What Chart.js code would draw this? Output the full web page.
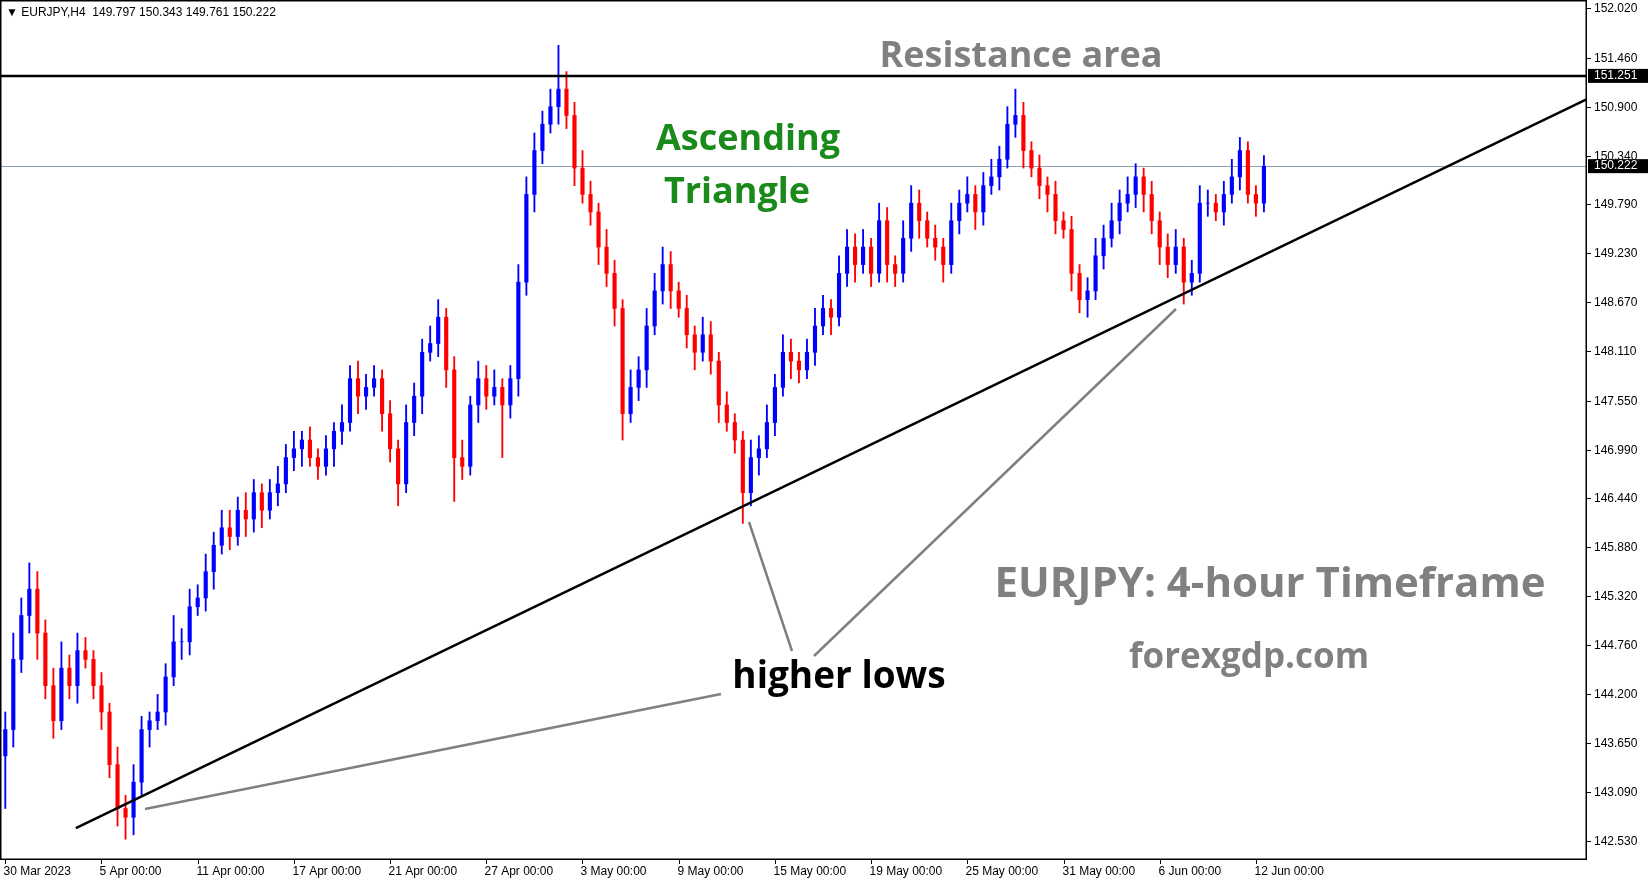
<!DOCTYPE html>
<html><head><meta charset="utf-8">
<script src="https://cdn.jsdelivr.net/npm/chart.js@4.4.0/dist/chart.umd.min.js"></script>
<style>html,body{margin:0;padding:0;background:#fff}#w{width:1650px;height:884px}</style>
</head><body><div id="w"><canvas id="c" width="1650" height="884"></canvas></div>
<script>
const closes=[143.8,144.6,145.1,145.4,144.9,144.3,143.9,144.5,144.3,144.7,144.6,144.3,144.0,143.4,142.9,142.8,143.2,143.8,143.9,144.0,
144.4,144.8,144.8,145.2,145.3,145.6,145.9,146.1,146.0,146.3,146.2,146.5,146.3,146.5,146.6,146.9,147.0,147.1,146.9,146.8,
147.0,147.2,147.3,147.8,147.6,147.7,147.8,147.4,147.0,146.6,147.3,147.6,148.1,148.2,148.5,147.9,146.9,146.8,147.5,147.8,
147.6,147.7,147.5,147.8,148.9,149.9,150.4,150.7,150.9,151.1,150.8,150.2,149.9,149.7,149.3,149.0,148.6,147.4,147.7,147.9,
148.4,148.8,149.1,148.8,148.6,148.3,148.1,148.3,148.0,147.5,147.3,147.1,146.5,146.9,147.0,147.3,147.7,148.1,148.0,147.9,
148.1,148.4,148.6,148.5,149.0,149.3,149.1,149.3,149.0,149.6,149.1,149.0,149.4,149.8,149.6,149.4,149.3,149.1,149.6,149.8,
149.9,149.7,150.0,150.1,150.3,150.7,150.8,150.4,150.2,150.0,149.9,149.6,149.5,149.0,148.7,148.8,149.2,149.4,149.6,149.8,
149.9,150.1,149.9,149.6,149.3,149.1,149.3,148.9,149.0,149.8,149.8,149.7,149.9,150.1,150.4,149.9,149.8,150.222];
const firstOpen=143.5;
const wickUp=[0.2,0.3,0.2,0.3,0.2,0.15,0.2,0.3,0.15,0.2,0.15,0.1,0.15,0.1,0.2,0.15,0.2,0.15,0.1,0.2,
0.15,0.3,0.15,0.2,0.15,0.2,0.15,0.2,0.2,0.15,0.2,0.15,0.1,0.15,0.2,0.15,0.2,0.1,0.15,0.1,
0.15,0.1,0.2,0.15,0.2,0.15,0.15,0.1,0.15,0.1,0.2,0.15,0.15,0.2,0.2,0.1,0.15,0.2,0.1,0.2,
0.15,0.2,0.1,0.15,0.2,0.2,0.2,0.15,0.2,0.5,0.2,0.15,0.2,0.15,0.1,0.2,0.15,0.1,0.2,0.15,
0.2,0.2,0.2,0.15,0.1,0.15,0.1,0.2,0.15,0.1,0.15,0.1,0.1,0.2,0.15,0.2,0.15,0.2,0.15,0.1,
0.15,0.2,0.15,0.1,0.2,0.2,0.15,0.2,0.1,0.2,0.15,0.1,0.2,0.2,0.15,0.1,0.15,0.1,0.2,0.15,
0.2,0.1,0.15,0.2,0.15,0.2,0.3,0.15,0.1,0.15,0.1,0.15,0.1,0.15,0.1,0.15,0.2,0.15,0.2,0.15,
0.2,0.15,0.1,0.15,0.1,0.15,0.2,0.1,0.15,0.2,0.15,0.1,0.15,0.2,0.15,0.1,0.1,0.12];
const wickDn=[0.6,0.2,0.15,0.2,0.3,0.15,0.2,0.1,0.15,0.2,0.1,0.15,0.2,0.15,0.2,0.25,0.2,0.15,0.2,0.1,
0.15,0.1,0.2,0.15,0.1,0.15,0.2,0.1,0.15,0.1,0.2,0.15,0.2,0.1,0.15,0.1,0.15,0.2,0.1,0.15,
0.1,0.2,0.15,0.1,0.2,0.15,0.1,0.2,0.15,0.25,0.1,0.15,0.2,0.1,0.15,0.2,0.5,0.15,0.1,0.2,
0.15,0.1,0.6,0.15,0.2,0.15,0.2,0.15,0.1,0.2,0.15,0.2,0.1,0.15,0.2,0.15,0.2,0.3,0.1,0.15,
0.2,0.1,0.15,0.2,0.1,0.15,0.2,0.1,0.15,0.2,0.1,0.15,0.35,0.15,0.2,0.1,0.15,0.1,0.2,0.15,
0.1,0.15,0.1,0.2,0.1,0.15,0.2,0.1,0.15,0.1,0.2,0.15,0.1,0.15,0.2,0.1,0.15,0.2,0.1,0.15,
0.1,0.2,0.15,0.1,0.15,0.1,0.15,0.2,0.1,0.15,0.2,0.15,0.1,0.2,0.15,0.2,0.1,0.15,0.1,0.15,
0.1,0.15,0.2,0.15,0.2,0.15,0.1,0.25,0.15,0.1,0.15,0.1,0.15,0.1,0.15,0.1,0.15,0.1];
const xTickIdx=[0,12,24,36,48,60,72,84,96,108,120,132,144,156];
const xTickLabels=["30 Mar 2023","5 Apr 00:00","11 Apr 00:00","17 Apr 00:00","21 Apr 00:00","27 Apr 00:00","3 May 00:00","9 May 00:00","15 May 00:00","19 May 00:00","25 May 00:00","31 May 00:00","6 Jun 00:00","12 Jun 00:00"];
const yTicks=[152.020,151.460,150.900,150.340,149.790,149.230,148.670,148.110,147.550,146.990,146.440,145.880,145.320,144.760,144.200,143.650,143.090,142.530];
const resistance=151.251, lastPrice=150.222;
const trendX=[8.8,197.6], trendY=[142.675,151.0];

const opens=closes.map((c,i)=>i===0?firstOpen:closes[i-1]);
const bodies=closes.map((c,i)=>({x:i,y:[opens[i],c]}));
const wicks=closes.map((c,i)=>({x:i,y:[Math.min(opens[i],c)-wickDn[i],Math.max(opens[i],c)+wickUp[i]]}));
const cols=closes.map((c,i)=>c>=opens[i]?'#0000ff':'#ff0000');

const deco={id:'deco',
 beforeDatasetsDraw(ch){const {ctx,chartArea:a,scales:{y}}=ch;ctx.save();
  ctx.strokeStyle='#8f9fb0';ctx.lineWidth=1;let py=Math.round(y.getPixelForValue(lastPrice))+0.5;
  ctx.beginPath();ctx.moveTo(a.left,py);ctx.lineTo(a.right,py);ctx.stroke();ctx.restore();},
 afterDraw(ch){const {ctx,chartArea:a,scales:{x,y}}=ch;ctx.save();
  ctx.strokeStyle='#000';ctx.lineWidth=2.5;let ry=y.getPixelForValue(resistance);
  ctx.beginPath();ctx.moveTo(a.left,ry);ctx.lineTo(a.right,ry);ctx.stroke();
  ctx.lineWidth=1.5;ctx.strokeRect(a.left+0.75,a.top+0.75,a.right-a.left-1.5,a.bottom-a.top-1.5);
  ctx.font='12px "Liberation Sans"';ctx.textBaseline='middle';ctx.fillStyle='#000';ctx.lineWidth=1;
  yTicks.forEach(v=>{const p=Math.round(y.getPixelForValue(v))+0.5;ctx.beginPath();ctx.moveTo(a.right,p);ctx.lineTo(a.right+4,p);ctx.stroke();ctx.textAlign='left';ctx.fillText(v.toFixed(3),a.right+7,p);});
  ctx.textBaseline='top';
  xTickIdx.forEach((v,i)=>{const p=Math.round(x.getPixelForValue(v))+0.5;ctx.beginPath();ctx.moveTo(p,a.bottom);ctx.lineTo(p,a.bottom+4);ctx.stroke();ctx.textAlign='left';ctx.fillText(xTickLabels[i],p-2,a.bottom+6);});
  ctx.textBaseline='middle';
  for(const v of [resistance,lastPrice]){const p=y.getPixelForValue(v);ctx.fillStyle='#000';ctx.fillRect(a.right+1,p-7,60,14);ctx.fillStyle='#fff';ctx.textAlign='left';ctx.fillText(v.toFixed(3),a.right+7,p);}
  ctx.fillStyle='#000';ctx.fillText('▼ EURJPY,H4  149.797 150.343 149.761 150.222',6,13);
  ctx.strokeStyle='#808080';ctx.lineWidth=2.5;
  for(const s of [[145,809,721,694],[749,522,792,651],[814,656,1176,309]]){ctx.beginPath();ctx.moveTo(s[0],s[1]);ctx.lineTo(s[2],s[3]);ctx.stroke();}
  ctx.textAlign='center';ctx.textBaseline='middle';
  const T=(t,x,yy,sz,c)=>{ctx.font='bold '+sz+'px "Open Sans"';ctx.fillStyle=c;ctx.fillText(t,x,yy);};
  T('Resistance area',1021,57,36,'#808080');
  T('Ascending',748,140,36,'#1a8a1a');T('Triangle',737,193,36,'#1a8a1a');
  T('EURJPY: 4-hour Timeframe',1270,585,42,'#808080');
  T('forexgdp.com',1249,658,35,'#808080');
  T('higher lows',839,677,37,'#000');
  ctx.restore();}
};
new Chart(document.getElementById('c'),{
 data:{datasets:[
  {type:'bar',data:wicks,backgroundColor:cols,barThickness:1.2,grouped:false,order:2},
  {type:'bar',data:bodies,backgroundColor:cols,barThickness:3.5,grouped:false,order:1},
  {type:'line',data:trendX.map((x,i)=>({x,y:trendY[i]})),borderColor:'#000',borderWidth:2.5,pointRadius:0,order:0}
 ]},
 plugins:[deco],
 options:{responsive:false,devicePixelRatio:1,animation:false,
  layout:{padding:{left:0,top:0,right:63,bottom:24}},
  plugins:{legend:{display:false},tooltip:{enabled:false}},
  scales:{
   x:{type:'linear',offset:false,min:-0.66,max:197.3,display:false},
   y:{min:142.313,max:152.116,display:false}
  }}
});
</script></body></html>
